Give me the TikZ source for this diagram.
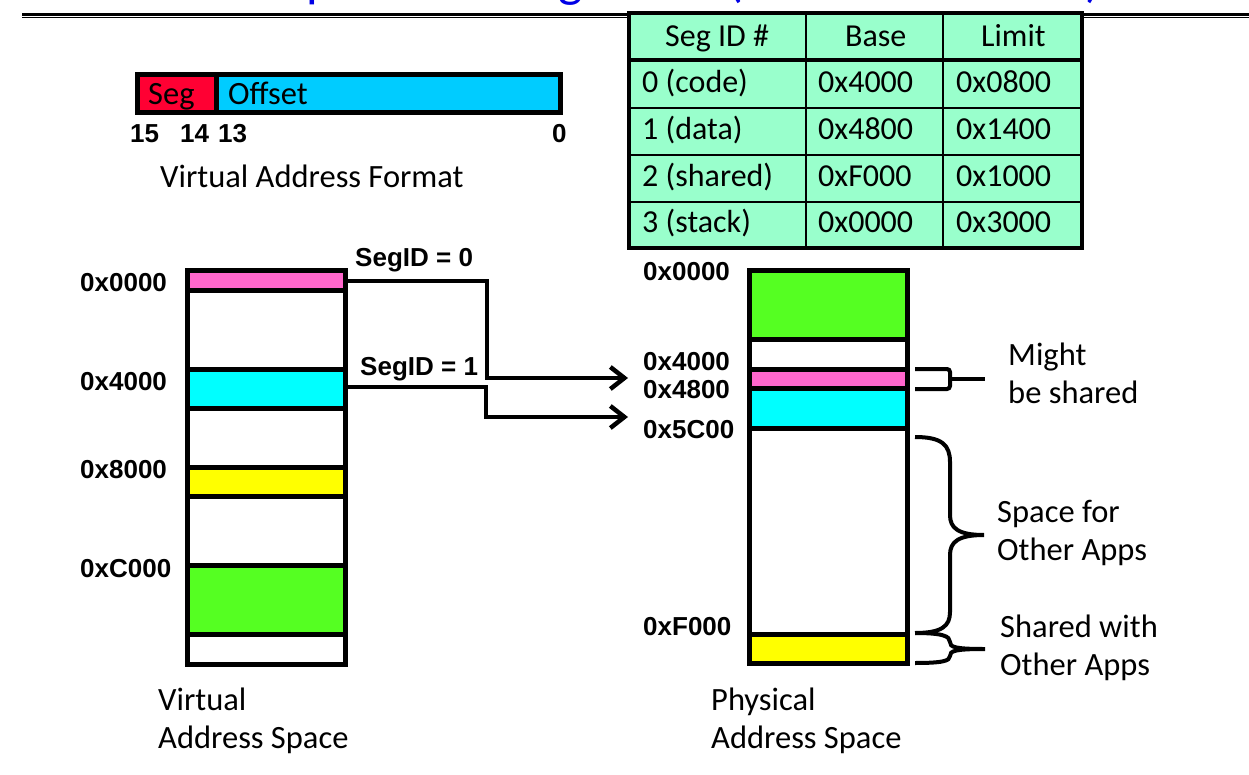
\documentclass[tikz,border=0pt]{standalone}
\usepackage{fontspec}
\setmainfont{Carlito}
\newfontfamily\lab{Liberation Sans}
\usetikzlibrary{arrows.meta}
\definecolor{titleblue}{RGB}{0,0,230}
\definecolor{segred}{RGB}{255,0,51}
\definecolor{offcyan}{RGB}{0,204,255}
\definecolor{tabfill}{RGB}{153,255,204}
\definecolor{mpink}{RGB}{255,102,204}
\definecolor{mcyan}{RGB}{0,255,255}
\definecolor{myellow}{RGB}{255,255,0}
\definecolor{mgreen}{RGB}{85,255,34}
\begin{document}
\begin{tikzpicture}[x=1pt,y=-1pt,
  txt/.style={anchor=base west,inner sep=0,font=\fontsize{32.5}{39}\selectfont},
  hex/.style={anchor=base west,inner sep=0,font=\lab\bfseries\fontsize{26}{30}\selectfont},
  tcell/.style={anchor=base west,inner sep=0,font=\fontsize{32}{39}\selectfont},
  mem/.style={line width=5pt},
  conn/.style={line width=4.5pt,-{Straight Barb[length=14pt,width=22pt,line width=4.5pt]}},
  brc/.style={line width=4pt}]
\useasboundingbox (0,0) rectangle (1249,775);
% title (cut off at the top)
\begin{scope}
\clip (0,0) rectangle (1249,775);
\node[anchor=base west,inner sep=0,text=titleblue,font=\fontsize{52}{60}\selectfont] (title) at (193,-3) {Example: Four Segments (16 bit addresses)};
\end{scope}
\draw[line width=2.5pt] (22,14.3) -- (1249,14.3);
\draw[line width=1pt] (22,17.3) -- (1249,17.3);

% virtual address format
\fill[segred] (137.5,74.5) rectangle (216.7,112.5);
\fill[offcyan] (216.7,74.5) rectangle (560.5,112.5);
\draw[mem] (137.5,74.5) rectangle (560.5,112.5);
\draw[mem] (216.7,74.5) -- (216.7,112.5);
\node[txt] (seg) at (148,105) {Seg};
\node[txt] (off) at (228,105) {Offset};
\node[hex] (b15) at (130,143) {15};
\node[hex] (b14) at (180,143) {14};
\node[hex] (b13) at (218,143) {13};
\node[hex] (b0) at (552,143) {0};
\node[txt] (vaf) at (160,188) {Virtual Address Format};

% table
\fill[tabfill] (629,13) rectangle (1082,248);
\foreach \yy in {108,155,202} \draw[line width=2pt] (629,\yy) -- (1082,\yy);
\draw[line width=2pt] (806,13) -- (806,248);
\draw[line width=2pt] (943,13) -- (943,248);
\draw[line width=3.3pt] (629,60) -- (1082,60);
\draw[line width=3.5pt] (629,13) rectangle (1082,248);
\node[tcell] (h1) at (665,47) {Seg ID \#};
\node[tcell] (h2) at (845,47) {Base};
\node[tcell] (h3) at (981,47) {Limit};
\node[tcell] (r1a) at (642,93) {0 (code)};
\node[tcell] (r1b) at (818,93) {0x4000};
\node[tcell] (r1c) at (956,93) {0x0800};
\node[tcell] (r2a) at (642,140) {1 (data)};
\node[tcell] (r2b) at (818,140) {0x4800};
\node[tcell] (r2c) at (956,140) {0x1400};
\node[tcell] (r3a) at (642,187) {2 (shared)};
\node[tcell] (r3b) at (818,187) {0xF000};
\node[tcell] (r3c) at (956,187) {0x1000};
\node[tcell] (r4a) at (642,233) {3 (stack)};
\node[tcell] (r4b) at (818,233) {0x0000};
\node[tcell] (r4c) at (956,233) {0x3000};

% virtual address space
\fill[white] (187.5,270.5) rectangle (345,664.5);
\fill[mpink] (187.5,270.5) rectangle (345,290.5);
\fill[mcyan] (187.5,369.5) rectangle (345,408);
\fill[myellow] (187.5,467.5) rectangle (345,496);
\fill[mgreen] (187.5,565.5) rectangle (345,634.5);
\foreach \yy in {290.5,369.5,408,467.5,496,565.5,634.5} \draw[mem] (187.5,\yy) -- (345,\yy);
\draw[mem] (187.5,270.5) rectangle (345,664.5);
\node[hex] (v0) at (80,292) {0x0000};
\node[hex] (v4) at (80,390) {0x4000};
\node[hex] (v8) at (80,478) {0x8000};
\node[hex] (vc) at (80,577) {0xC000};
\node[txt] (vas1) at (158,710) {Virtual};
\node[txt] (vas2) at (158,748) {Address Space};

% physical address space
\fill[white] (749,271) rectangle (907,663);
\fill[mgreen] (749,271) rectangle (907,339);
\fill[mpink] (749,369) rectangle (907,388);
\fill[mcyan] (749,388) rectangle (907,428);
\fill[myellow] (749,634) rectangle (907,663);
\foreach \yy in {339,369,388,428,634} \draw[mem] (749,\yy) -- (907,\yy);
\draw[mem] (749,271) rectangle (907,663);
\node[hex] (p0) at (643,281) {0x0000};
\node[hex] (p4) at (643,370) {0x4000};
\node[hex] (p48) at (643,398) {0x4800};
\node[hex] (p5c) at (643,438) {0x5C00};
\node[hex] (pf) at (643,635) {0xF000};
\node[txt] (pas1) at (711,710) {Physical};
\node[txt] (pas2) at (711,748) {Address Space};

% connectors
\coordinate (s0) at (345,281);
\coordinate (k0) at (487,378);
\coordinate (t0) at (628,378);
\coordinate (s1) at (345,387);
\coordinate (k1) at (486,417);
\coordinate (t1) at (628,417);
\draw[conn] (s0) -| (k0) -- (t0);
\draw[conn] (s1) -| (k1) -- (t1);
\node[hex] (sid0) at (355,267) {SegID = 0};
\node[hex] (sid1) at (360,375) {SegID = 1};

% braces
\draw[brc,rounded corners=3pt] (915,369) -- (950,369) -- (950,389) -- (915,389);
\draw[brc] (950,379) -- (985,379);
\node[txt] (m1) at (1008,365) {Might};
\node[txt] (m2) at (1008,403) {be shared};
\draw[brc] (915,437) .. controls (942,437) and (950,445) .. (950,462) -- (950,515)
  .. controls (950,528) and (958,535) .. (984,535)
  .. controls (958,535) and (950,542) .. (950,555) -- (950,612)
  .. controls (950,626) and (942,633) .. (915,633);
\node[txt] (sp1) at (997,522) {Space for};
\node[txt] (sp2) at (997,560) {Other Apps};
\draw[brc] (915,633) .. controls (942,633) and (950,636) .. (950,642)
  .. controls (950,647) and (954,649) .. (985,649)
  .. controls (954,649) and (950,651) .. (950,656)
  .. controls (950,661) and (942,663) .. (915,663);
\node[txt] (sh1) at (1000,637) {Shared with};
\node[txt] (sh2) at (1000,675) {Other Apps};
\end{tikzpicture}
\end{document}
